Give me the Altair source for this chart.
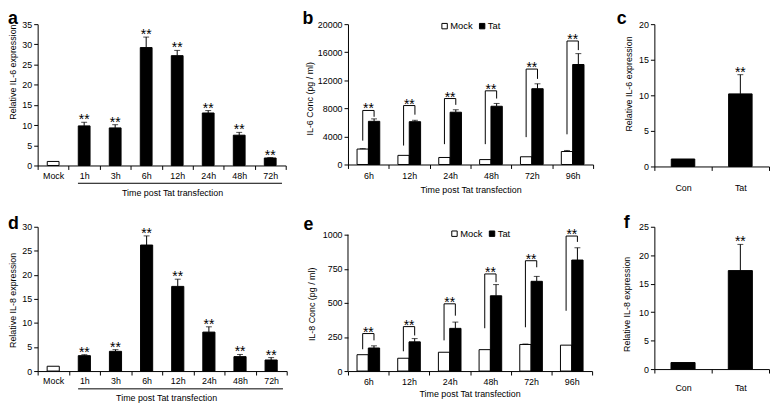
import altair as alt
import pandas as pd

FONT = "Liberation Sans"

# ---------------- data ----------------
# a: relative IL-6 expression over time
a_cats = ["Mock", "1h", "3h", "6h", "12h", "24h", "48h", "72h"]
a_vals = [1.0, 9.8, 9.3, 29.2, 27.2, 13.0, 7.5, 1.85]
a_err = [0.0, 0.9, 0.8, 2.6, 1.3, 0.6, 0.7, 0.1]
a_sig = ["", "**", "**", "**", "**", "**", "**", "**"]

# b: IL-6 concentration (pg/ml)
b_cats = ["6h", "12h", "24h", "48h", "72h", "96h"]
b_mock = [2200, 1300, 1000, 700, 1100, 1850]
b_mock_err = [60, 0, 0, 0, 0, 150]
b_tat = [6150, 6100, 7450, 8300, 10800, 14250]
b_tat_err = [350, 200, 350, 400, 700, 1550]
b_br_top = [7700, 8400, 9400, 10500, 13600, 17600]
b_br_left = [3400, 2700, 2900, 2900, 3900, 4300]
b_br_right = [6800, 7100, 8500, 9400, 12200, 16300]

# c: relative IL-6 expression
c_cats = ["Con", "Tat"]
c_vals = [1.05, 10.2]
c_err = [0.0, 2.7]
c_sig = ["", "**"]

# d: relative IL-8 expression over time
d_cats = ["Mock", "1h", "3h", "6h", "12h", "24h", "48h", "72h"]
d_vals = [1.0, 3.2, 4.1, 26.2, 17.6, 8.1, 3.0, 2.3]
d_err = [0.0, 0.2, 0.35, 1.9, 1.5, 1.1, 0.45, 0.5]
d_sig = ["", "**", "**", "**", "**", "**", "**", "**"]

# e: IL-8 concentration (pg/ml)
e_cats = ["6h", "12h", "24h", "48h", "72h", "96h"]
e_mock = [120, 94, 138, 157, 195, 190]
e_mock_err = [0, 0, 0, 0, 3, 0]
e_tat = [169, 214, 313, 552, 658, 814]
e_tat_err = [16, 24, 46, 82, 36, 90]
e_br_top = [275, 326, 493, 712, 809, 990]
e_br_left = [160, 145, 225, 314, 321, 442]
e_br_right = [225, 261, 406, 652, 761, 947]

# f: relative IL-8 expression
f_cats = ["Con", "Tat"]
f_vals = [1.15, 17.3]
f_err = [0.0, 4.6]
f_sig = ["", "**"]

XTITLE = "Time post Tat transfection"
ONE = alt.Data(values=[{}])


def x_axis(title=None, tx=None, ty=None, lpad=2):
    kw = dict(labelAngle=0, tickBand="extent", labelPadding=lpad)
    if title:
        kw.update(title=title, titleX=tx, titleY=ty, titleBaseline="middle", titleAlign="center")
    else:
        kw["title"] = None
    return alt.Axis(**kw)


def y_axis(vals, title, tx, ty, domain_line=True):
    return alt.Axis(values=vals, format="d", title=title, titleAngle=270,
                    titleX=tx, titleY=ty, titleBaseline="middle",
                    titleAlign="center", domain=domain_line)


def letter_layer(letter, lx, ly):
    return alt.Chart(ONE).mark_text(text=letter, font=FONT, fontSize=18, fontWeight="bold",
                                    align="left", baseline="alphabetic", color="black").encode(
        x=alt.value(lx), y=alt.value(ly))


def single_panel(cats, vals, errs, sig, w, h, ymax, yvals, ytitle, ytx, yty,
                 letter, lx, ly, band, lpad, xtitle=None, xtx=None, xty=None, underline=False):
    df = pd.DataFrame({"cat": cats, "val": vals, "err": errs, "star": sig})
    df["top"] = df["val"] + df["err"]
    xsc = alt.Scale(domain=cats, paddingInner=0, paddingOuter=0)
    ysc = alt.Scale(domain=[0, ymax], nice=False, zero=True)
    xax = x_axis(xtitle, xtx, xty, lpad)
    yax = y_axis(yvals, ytitle, ytx, yty)
    X = alt.X("cat:N", scale=xsc, axis=xax)

    def Y(f):
        return alt.Y(f"{f}:Q", scale=ysc, axis=yax)

    base = alt.Chart(df)
    fill = alt.condition(alt.datum.cat == "Mock", alt.value("white"), alt.value("black"))
    bars = base.mark_bar(width=alt.RelativeBandSize(band), stroke="black", strokeWidth=1).encode(
        x=X, y=Y("val"), fill=fill)
    errd = base.transform_filter(alt.datum.err > 0)
    err = errd.mark_rule(color="black", strokeWidth=1).encode(x=X, y=Y("val"), y2="top:Q")
    cap = errd.mark_tick(color="black", thickness=1, size=6).encode(x=X, y=Y("top"))
    stars = base.transform_filter(alt.datum.star != "").mark_text(
        font=FONT, fontSize=14, baseline="alphabetic", dy=2, color="black").encode(
        x=X, y=Y("top"), text="star:N")
    layers = [bars, err, cap, stars, letter_layer(letter, lx, ly)]
    if underline:
        ul = alt.Chart(ONE).mark_rule(color="black", strokeWidth=1).encode(
            x=alt.XDatum(cats[1], type="nominal", bandPosition=0.3, scale=xsc, axis=xax),
            x2=alt.X2Datum(cats[-1], bandPosition=0.88),
            y=alt.value(h + 18))
        layers.append(ul)
    return alt.layer(*layers).properties(width=w, height=h)


def grouped_panel(cats, mock, mock_err, tat, tat_err, br_top, br_left, br_right,
                  w, h, ydom, yvals, ytitle, ytx, yty, letter, lx, ly, lpad,
                  xtx, xty, legx, legy, axis_top=None):
    rows = []
    for i, c in enumerate(cats):
        rows.append(dict(cat=c, series="Mock", val=mock[i], err=mock_err[i]))
        rows.append(dict(cat=c, series="Tat", val=tat[i], err=tat_err[i]))
    df = pd.DataFrame(rows)
    df["top"] = df["val"] + df["err"]
    br = []
    for i, c in enumerate(cats):
        br += [dict(cat=c, series="Mock", v=br_left[i], o=0),
               dict(cat=c, series="Mock", v=br_top[i], o=1),
               dict(cat=c, series="Tat", v=br_top[i], o=2),
               dict(cat=c, series="Tat", v=br_right[i], o=3)]
    brdf = pd.DataFrame(br)
    stdf = pd.DataFrame({"cat": cats, "top": br_top, "star": ["**"] * len(cats)})

    xsc = alt.Scale(domain=cats, paddingInner=0, paddingOuter=0)
    ysc = alt.Scale(domain=ydom, nice=False, zero=True)
    xax = x_axis(XTITLE, xtx, xty, lpad)
    yax = y_axis(yvals, ytitle, ytx, yty, domain_line=axis_top is None)
    X = alt.X("cat:N", scale=xsc, axis=xax)

    def Y(f):
        return alt.Y(f"{f}:Q", scale=ysc, axis=yax)

    XO = alt.XOffset("series:N", scale=alt.Scale(domain=["Mock", "Tat"], paddingInner=0,
                                                 paddingOuter=0.8))
    base = alt.Chart(df)
    bars = base.mark_bar(stroke="black", strokeWidth=1).encode(
        x=X, xOffset=XO, y=Y("val"),
        fill=alt.Fill("series:N", scale=alt.Scale(domain=["Mock", "Tat"], range=["white", "black"]),
                      legend=alt.Legend(orient="none", legendX=legx, legendY=legy,
                                        direction="horizontal", title=None, symbolType="square",
                                        symbolSize=30, symbolStrokeColor="black",
                                        symbolStrokeWidth=1, labelFontSize=9.5, labelFont=FONT,
                                        labelOffset=1, columnPadding=4, padding=0)))
    errd = base.transform_filter(alt.datum.err > 0)
    err = errd.mark_rule(color="black", strokeWidth=1).encode(
        x=X, xOffset=XO, y=Y("val"), y2="top:Q")
    cap = errd.mark_tick(color="black", thickness=1, size=6).encode(
        x=X, xOffset=XO, y=Y("top"))
    brk = alt.Chart(brdf).mark_line(color="black", strokeWidth=1).encode(
        x=X, xOffset=XO, y=Y("v"), detail="cat:N", order="o:Q")
    stars = alt.Chart(stdf).mark_text(font=FONT, fontSize=14, baseline="alphabetic", dy=3,
                                      color="black").encode(
        x=X, y=Y("top"), text="star:N")
    layers = [bars, err, cap, brk, stars, letter_layer(letter, lx, ly)]
    if axis_top is not None:
        ax = alt.Chart(ONE).mark_rule(color="black", strokeWidth=1).encode(
            x=alt.value(0), y=alt.YDatum(0, scale=ysc, axis=yax), y2=alt.Y2Datum(axis_top))
        layers.append(ax)
    return alt.layer(*layers).properties(width=w, height=h)


pa = single_panel(a_cats, a_vals, a_err, a_sig, 251, 143, 35, list(range(0, 36, 5)),
                  "Relative IL-6 expression", -25, 48, "a", -30, 0, 0.38, 2,
                  XTITLE, 136, 27, underline=True)
pb = grouped_panel(b_cats, b_mock, b_mock_err, b_tat, b_tat_err, b_br_top, b_br_left, b_br_right,
                   248, 142, [0, 20000], list(range(0, 20001, 4000)), "IL-6 Conc (pg / ml)",
                   -39, 75, "b", -46, 0, 3, 124, 25, 93, -3)
pc = single_panel(c_cats, c_vals, c_err, c_sig, 116, 144, 20, list(range(0, 21, 5)),
                  "Relative IL-6 expression", -26, 60, "c", -38, 0, 0.41, 13)
pd_ = single_panel(d_cats, d_vals, d_err, d_sig, 252, 146, 30, list(range(0, 31, 5)),
                   "Relative IL-8 expression", -25, 74, "d", -30, 2, 0.39, 2,
                   XTITLE, 130, 27, underline=True)
pe = grouped_panel(e_cats, e_mock, e_mock_err, e_tat, e_tat_err, e_br_top, e_br_left, e_br_right,
                   247, 146, [0, 1058], [0, 250, 500, 750, 1000], "IL-8 Conc (pg / ml)",
                   -37, 78, "e", -45, 3, 3, 123, 23, 103, 2, axis_top=1000)
pf = single_panel(f_cats, f_vals, f_err, f_sig, 116, 144, 25, list(range(0, 26, 5)),
                  "Relative IL-8 expression", -28, 78, "f", -31, 1, 0.42, 11)

chart = alt.concat(pa, pb, pc, pd_, pe, pf, columns=3, spacing={"row": 61, "column": 62},
                   bounds="flush", align="none").resolve_scale(
    x="independent", y="independent", fill="independent", xOffset="independent"
).resolve_legend(fill="independent").properties(
    padding=0, background="white"
).configure_axis(
    labelFont=FONT, labelFontSize=9, labelColor="black", titleFont=FONT, titleFontSize=9,
    titleFontWeight="normal", titleColor="black", domainColor="black", domainWidth=1,
    tickColor="black", tickWidth=1, tickSize=4, grid=False
).configure_view(stroke=None)

chart.save("out.html", embed_options={"renderer": "svg", "actions": False})
